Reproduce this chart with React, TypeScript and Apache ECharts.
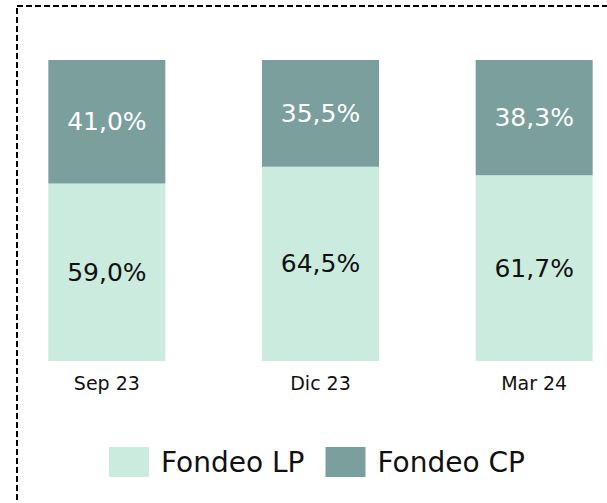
import React, { useEffect, useRef } from "react";
import * as echarts from "echarts";

const categories = ["Sep 23", "Dic 23", "Mar 24"];
const fondeoLP = [59.0, 64.5, 61.7];
const fondeoCP = [41.0, 35.5, 38.3];
const seriesNames = ["Fondeo LP", "Fondeo CP"];

const fmt = (v: number) => v.toFixed(1).replace(".", ",") + "%";

export default function App() {
  const ref = useRef<HTMLDivElement>(null);
  useEffect(() => {
    if (!ref.current) return;
    const chart = echarts.init(ref.current, null, { renderer: "svg" });
    const font = "'DejaVu Sans', sans-serif";
    chart.setOption({
      animation: false,
      backgroundColor: "#ffffff",
      grid: {
        left: 0,
        top: 60,
        width: 641,
        height: 301,
        containLabel: false,
        outerBoundsMode: "none",
      },
      xAxis: {
        type: "category",
        data: categories,
        axisLine: { show: false },
        axisTick: { show: false },
        axisLabel: { color: "#111", fontSize: 19, fontFamily: font, margin: 12 },
      },
      yAxis: { type: "value", min: 0, max: 100, show: false, splitLine: { show: false } },
      legend: {
        left: 104,
        top: 442,
        icon: "rect",
        itemWidth: 40,
        itemHeight: 30,
        itemGap: 21,
        textStyle: { fontSize: 28, color: "#111", fontFamily: font, padding: [0, 0, 0, 7] },
        data: seriesNames,
      },
      graphic: [
        {
          type: "rect",
          shape: { x: 17, y: 6, width: 700, height: 600 },
          style: { fill: "none", stroke: "#000", lineWidth: 2, lineDash: [6, 3] },
          silent: true,
        },
      ],
      series: [
        {
          name: seriesNames[0],
          type: "bar",
          stack: "total",
          barWidth: 117,
          data: fondeoLP,
          itemStyle: { color: "#CCEBDF" },
          label: {
            show: true,
            position: "inside",
            color: "#111",
            fontSize: 25,
            fontFamily: font,
            formatter: (p: any) => fmt(p.value),
          },
        },
        {
          name: seriesNames[1],
          type: "bar",
          stack: "total",
          barWidth: 117,
          data: fondeoCP,
          itemStyle: { color: "#7A9F9D" },
          label: {
            show: true,
            position: "inside",
            color: "#ffffff",
            fontSize: 25,
            fontFamily: font,
            formatter: (p: any) => fmt(p.value),
          },
        },
      ],
    });
    return () => chart.dispose();
  }, []);
  return (
    <div
      ref={ref}
      style={{ position: "fixed", left: 0, top: 0, width: 607, height: 503 }}
    />
  );
}
